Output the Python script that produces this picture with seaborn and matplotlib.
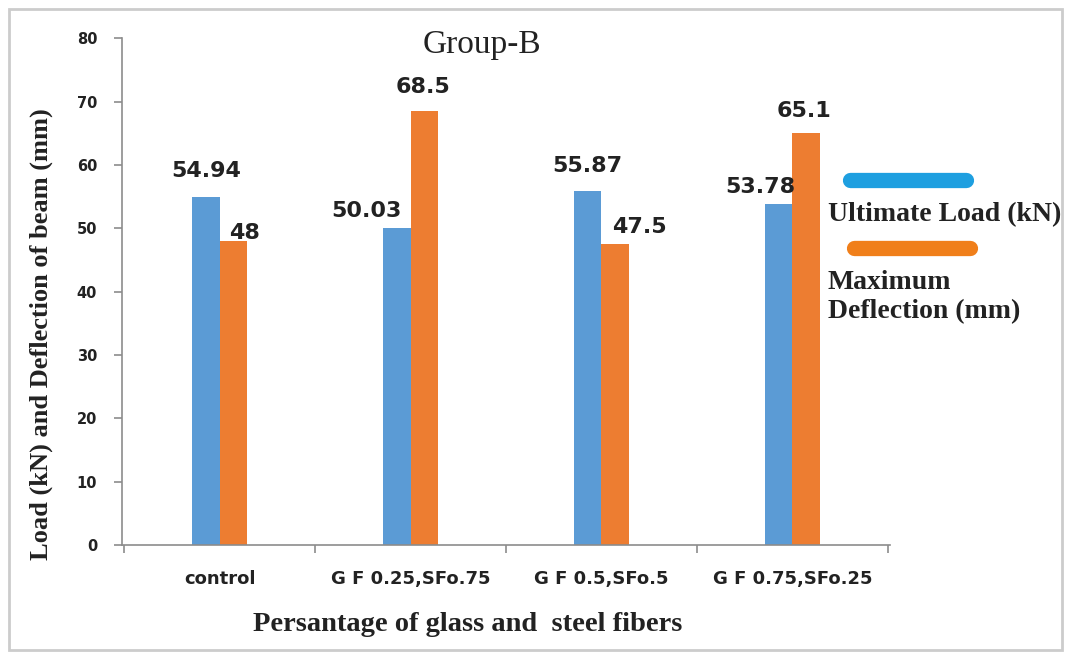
import pandas as pd
import matplotlib.pyplot as plt
import seaborn as sns
from matplotlib.lines import Line2D
from matplotlib.patches import Rectangle

categories = ["control", "G F 0.25,SFo.75", "G F 0.5,SFo.5", "G F 0.75,SFo.25"]
ultimate_load = [54.94, 50.03, 55.87, 53.78]
max_deflection = [48, 68.5, 47.5, 65.1]
series_names = ["Ultimate Load (kN)", "Maximum Deflection (mm)"]
load_labels = ["54.94", "50.03", "55.87", "53.78"]
defl_labels = ["48", "68.5", "47.5", "65.1"]

df = pd.DataFrame({
    "cat": categories * 2,
    "series": [series_names[0]] * 4 + [series_names[1]] * 4,
    "value": ultimate_load + max_deflection,
})

sns.set_style("white")
fig = plt.figure(figsize=(10.72, 6.59), dpi=100)
ax = fig.add_axes([0.114, 0.173, 0.716, 0.769])

ax = sns.barplot(data=df, x="cat", y="value", hue="series",
                 palette=["#5B9BD5", "#ED7D31"], width=0.285, gap=0,
                 saturation=1, linewidth=0, edgecolor="none",
                 legend=False, ax=ax)

ax.set_xlim(-0.51, 3.51)
ax.set_ylim(0, 80)
ax.set_yticks(range(0, 81, 10))

# labels sit a bit off-centre in the original, offsets in pixels (dx, dy above bar top)
load_off = [(0, 26), (-30, 17), (-1, 25), (-18, 17)]
defl_off = [(11, 8), (-1, 24), (24, 17), (-2, 22)]
for cont, labels, offs in zip(ax.containers, [load_labels, defl_labels], [load_off, defl_off]):
    for p, s, (dx, dy) in zip(cont.patches, labels, offs):
        ax.annotate(s, (p.get_x() + p.get_width() / 2, p.get_height()),
                    xytext=(dx, dy), textcoords="offset pixels",
                    ha="center", va="center", fontsize=16, fontweight="bold",
                    color="#222222")

for side in ["top", "right"]:
    ax.spines[side].set_visible(False)
for side in ["left", "bottom"]:
    ax.spines[side].set_color("#8c8c8c")
    ax.spines[side].set_linewidth(1.2)

ax.set_xticks([-0.5, 0.5, 1.5, 2.5, 3.5], minor=True)
ax.tick_params(axis="x", which="major", bottom=False, length=0, pad=18,
               labelsize=13, labelcolor="#222222")
ax.tick_params(axis="x", which="minor", bottom=True, length=6, width=1.2,
               color="#8c8c8c", direction="out")
ax.tick_params(axis="y", left=True, length=6, width=1.2, color="#8c8c8c", direction="out",
               labelsize=10.5, labelcolor="#222222", pad=12)
for t in ax.get_xticklabels() + ax.get_yticklabels():
    t.set_fontweight("bold")

serif = ["Liberation Serif", "DejaVu Serif"]
ax.set_xlabel("Persantage of glass and  steel fibers", fontsize=20.5, fontweight="bold",
              family=serif, color="#222222")
ax.xaxis.set_label_coords(0.45, -0.132)
ax.set_ylabel("Load (kN) and Deflection of beam (mm)", fontsize=19, fontweight="bold",
              family=serif, color="#222222")
ax.yaxis.set_label_coords(-0.09, 0.416)
ax.set_title("Group-B", fontsize=24, family=serif, color="#222222", x=0.469, y=0.955)

# legend drawn by hand: colour bar above each label
fig.add_artist(Line2D([850 / 1072, 966 / 1072], [1 - 180 / 659] * 2, color="#1E9FE0",
                      linewidth=11, solid_capstyle="round", transform=fig.transFigure))
fig.add_artist(Line2D([854 / 1072, 970 / 1072], [1 - 248 / 659] * 2, color="#F07F1A",
                      linewidth=11, solid_capstyle="round", transform=fig.transFigure))
fig.text(828 / 1072, 1 - 215 / 659, "Ultimate Load (kN)", fontsize=20, fontweight="bold",
         family=serif, color="#222222", va="center")
fig.text(828 / 1072, 1 - 297 / 659, "Maximum\nDeflection (mm)", fontsize=20, fontweight="bold",
         family=serif, color="#222222", va="center", linespacing=1.25)

fig.add_artist(Rectangle((9 / 1072, 9 / 659), 1053 / 1072, 641 / 659, fill=False,
                         edgecolor="#cccccc", linewidth=2, transform=fig.transFigure))

plt.savefig("out.png", dpi=100)
